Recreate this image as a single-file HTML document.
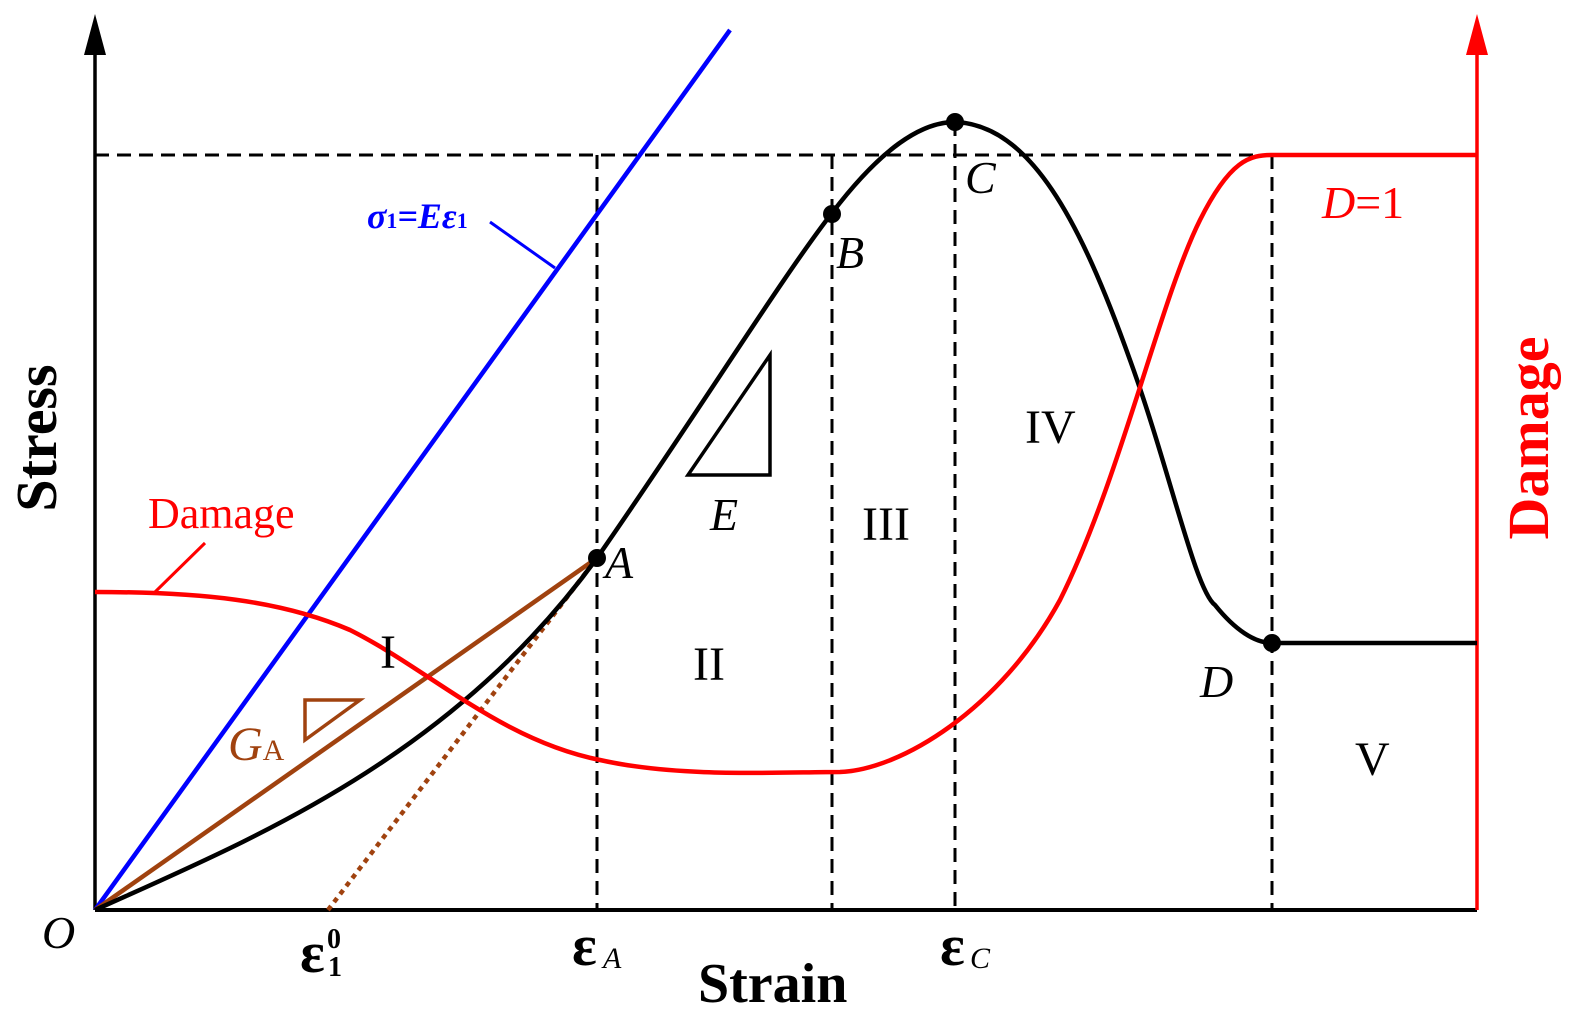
<!DOCTYPE html>
<html><head><style>body{margin:0;background:#fff}svg{display:block}</style></head><body>
<svg width="1587" height="1035" viewBox="0 0 1587 1035" xmlns="http://www.w3.org/2000/svg" font-family="Liberation Serif, serif">
<g stroke="#000" stroke-width="3" stroke-dasharray="14,8" fill="none">
<line x1="95" y1="155" x2="1477" y2="155"/>
<line x1="597" y1="155" x2="597" y2="910"/>
<line x1="832" y1="155" x2="832" y2="910"/>
<line x1="955" y1="122" x2="955" y2="910"/>
<line x1="1272" y1="155" x2="1272" y2="910"/>
</g>
<line x1="95" y1="910" x2="95" y2="50" stroke="#000" stroke-width="3.5"/>
<polygon points="95,14 84,55 106,55" fill="#000"/>
<line x1="95" y1="910" x2="1477" y2="910" stroke="#000" stroke-width="4"/>
<line x1="1477" y1="910" x2="1477" y2="50" stroke="#f00" stroke-width="3.5"/>
<polygon points="1477,14 1466,55 1488,55" fill="#f00"/>
<line x1="95" y1="910" x2="730" y2="30" stroke="#00f" stroke-width="4.5"/>
<line x1="490" y1="222" x2="555" y2="268" stroke="#00f" stroke-width="3"/>
<line x1="95" y1="910" x2="597" y2="558" stroke="#a0420f" stroke-width="4.5"/>
<line x1="328" y1="910" x2="597" y2="558" stroke="#a0420f" stroke-width="4.5" stroke-dasharray="5,5"/>
<polygon points="305,700 360,700 305,740" fill="none" stroke="#a0420f" stroke-width="3.5"/>
<polygon points="688,475 770,475 770,355" fill="none" stroke="#000" stroke-width="3.5"/>
<path d="M95,910 C250,840 450,760 597,558 C700,410 780,280 832,213 C880,150 920,122 955,122 C1030,125 1080,220 1130,360 C1170,470 1195,590 1215,605 C1235,630 1255,643 1272,643 L1477,643" fill="none" stroke="#000" stroke-width="4.5"/>
<path d="M95,592 C200,592 280,600 350,630 C430,670 500,740 600,760 C680,778 780,772 840,772 C900,770 1000,710 1060,600 C1120,480 1160,300 1200,220 C1230,160 1250,155 1272,155 L1477,155" fill="none" stroke="#f00" stroke-width="4.5"/>
<line x1="155" y1="592" x2="205" y2="543" stroke="#f00" stroke-width="3"/>
<g fill="#000"><circle cx="597" cy="558" r="9"/><circle cx="832" cy="214" r="9"/><circle cx="955" cy="122" r="9"/><circle cx="1272" cy="643" r="9"/></g>
<g font-size="46" font-style="italic">
<text x="42" y="948">O</text><text x="605" y="578">A</text><text x="836" y="268">B</text><text x="965" y="193">C</text><text x="1200" y="697">D</text><text x="710" y="530">E</text>
</g>
<g font-size="48">
<text x="380" y="668">I</text><text x="693" y="680">II</text><text x="862" y="540">III</text><text x="1025" y="443">IV</text><text x="1355" y="775">V</text>
</g>
<text x="1322" y="218" font-size="46" fill="#f00"><tspan font-style="italic">D</tspan>=1</text>
<text x="148" y="528" font-size="44" fill="#f00">Damage</text>
<text x="228" y="760" font-size="48" fill="#a0420f" font-style="italic">G<tspan font-size="30" font-style="normal">A</tspan></text>
<text x="367" y="228" font-size="36" fill="#00f" font-weight="bold" font-style="italic">σ<tspan font-size="22" font-style="normal">1</tspan>=Eε<tspan font-size="22" font-style="normal">1</tspan></text>
<g font-weight="bold">
<text x="300" y="972" font-size="58">ε</text><text x="327" y="948" font-size="28">0</text><text x="328" y="976" font-size="28">1</text>
<text x="572" y="965" font-size="58">ε</text><text x="603" y="968" font-size="30" font-style="italic" font-weight="normal">A</text>
<text x="940" y="965" font-size="58">ε</text><text x="970" y="968" font-size="30" font-style="italic" font-weight="normal">C</text>
<text x="698" y="1002" font-size="56">Strain</text>
<text transform="translate(56,438) rotate(-90)" font-size="58" text-anchor="middle">Stress</text>
<text transform="translate(1548,438) rotate(-90)" font-size="58" text-anchor="middle" fill="#f00">Damage</text>
</g>
</svg>
</body></html>
